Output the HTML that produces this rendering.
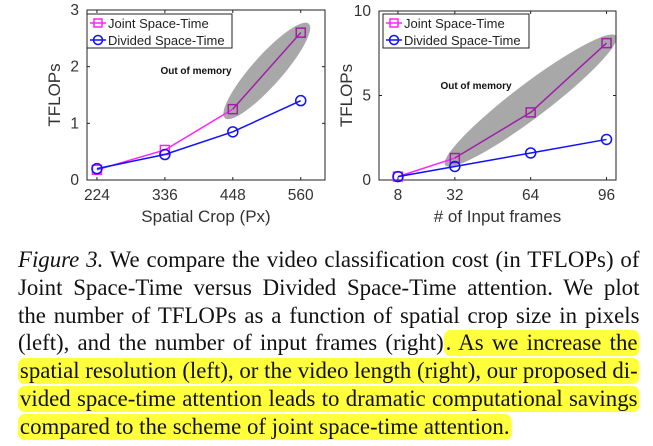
<!DOCTYPE html>
<html><head><meta charset="utf-8">
<style>
body{margin:0;width:653px;height:446px;background:#fff;overflow:hidden;font-family:"Liberation Sans",sans-serif}
#cap{position:absolute;left:18px;top:247px;width:642px;transform:scaleX(0.968);transform-origin:0 0;font-family:"Liberation Serif",serif;font-size:23.6px;line-height:27.8px;color:#111}
.l{text-align:justify;text-align-last:justify;white-space:nowrap}
.l.last{text-align-last:left}
.hl{background:#ffff3c;border-radius:7px;padding:0 2px}
</style></head><body>
<svg id="svg" width="653" height="240" style="position:absolute;left:0;top:0"></svg>
<div id="cap">
<div class="l"><i>Figure 3.</i> We compare the video classification cost (in TFLOPs) of</div>
<div class="l">Joint Space-Time versus Divided Space-Time attention. We plot</div>
<div class="l">the number of TFLOPs as a function of spatial crop size in pixels</div>
<div class="l">(left), and the number of input frames (right)<span class="hl">. As we increase the</span></div>
<div class="l"><span class="hl">spatial resolution (left), or the video length (right), our proposed di-</span></div>
<div class="l"><span class="hl">vided space-time attention leads to dramatic computational savings</span></div>
<div class="l last"><span class="hl">compared to the scheme of joint space-time attention.</span></div>
</div>
<script>
const leftCats=[224,336,448,560];
const leftJoint=[0.18,0.53,1.25,2.6];
const leftDivided=[0.2,0.45,0.85,1.4];
const leftYTicks=[0,1,2,3];
const rightCats=[8,32,64,96];
const rightJoint=[0.2,1.3,4.0,8.1];
const rightDivided=[0.2,0.8,1.6,2.4];
const rightYTicks=[0,5,10];
const NS="http://www.w3.org/2000/svg";
const svg=document.getElementById('svg');
function mk(t,a,p){const e=document.createElementNS(NS,t);for(const k in a)e.setAttribute(k,a[k]);(p||svg).appendChild(e);return e;}
function chart(o){
 const g=mk('g',{});
 
 
 const sx=v=>o.x0+(v-o.xd[0])/(o.xd[1]-o.xd[0])*(o.x1-o.x0);
 const sy=v=>o.y1-(v-o.yd[0])/(o.yd[1]-o.yd[0])*(o.y1-o.y0);
 const ea=o.ell;
 const cx=(sx(ea[0])+sx(ea[2]))/2, cy=(sy(ea[1])+sy(ea[3]))/2;
 const dx=sx(ea[2])-sx(ea[0]), dy=sy(ea[3])-sy(ea[1]);
 const len=Math.hypot(dx,dy)/2+12, ang=Math.atan2(dy,dx)*180/Math.PI;
 const el=mk('ellipse',{cx:cx,cy:cy,rx:len,ry:o.ry,fill:'#a8a8a8',transform:`rotate(${ang} ${cx} ${cy})`},g);
 
 
 const ot=mk('text',{x:o.oomX,y:o.oomY,'font-size':10,'font-weight':'bold',fill:'#111','text-anchor':'middle'},g);ot.textContent='Out of memory';
 
 
 const bx=mk('rect',{x:o.x0,y:o.y0,width:o.x1-o.x0,height:o.y1-o.y0,fill:'none',stroke:'#222','stroke-width':1},g);
 
 
 o.yt.forEach(v=>{const y=sy(v);
  mk('line',{x1:o.x0,x2:o.x0+3,y1:y,y2:y,stroke:'#222'},g);mk('line',{x1:o.x1,x2:o.x1-3,y1:y,y2:y,stroke:'#222'},g);
  const t=mk('text',{x:o.x0-8,y:y+5,'font-size':15.5,fill:'#333','text-anchor':'end'},g);t.textContent=v;
  
  });
 o.cats.forEach(v=>{const x=sx(v);
  mk('line',{x1:x,x2:x,y1:o.y1,y2:o.y1-3,stroke:'#222'},g);mk('line',{x1:x,x2:x,y1:o.y0,y2:o.y0+3,stroke:'#222'},g);
  const t=mk('text',{x:x,y:o.y1+20,'font-size':15.5,fill:'#333','text-anchor':'middle'},g);t.textContent=v;
  
  });
 const xl=mk('text',{x:(o.x0+o.x1)/2,y:o.y1+42,'font-size':17,fill:'#333','text-anchor':'middle'},g);xl.textContent=o.xl;
 
 
 const yx=o.x0-27,ym=(o.y0+o.y1)/2;
 const yl=mk('text',{x:yx,y:ym,'font-size':17,fill:'#333','text-anchor':'middle',transform:`rotate(-90 ${yx} ${ym})`},g);yl.textContent='TFLOPs';
 
 
 for(let i=0;i<o.cats.length-1;i++){
  const s=mk('line',{x1:sx(o.cats[i]),y1:sy(o.joint[i]),x2:sx(o.cats[i+1]),y2:sy(o.joint[i+1]),stroke:i>=o.purpleFrom?'#a020a8':'#ff22ff','stroke-width':1.5},g);
  
  }
 o.cats.forEach((c,i)=>{const x=sx(c),y=sy(o.joint[i]);
  const m=mk('rect',{x:x-4.5,y:y-4.5,width:9,height:9,fill:'none',stroke:i>=o.purpleFrom?'#a020a8':'#ff22ff','stroke-width':1.5},g);
  
  });
 const pd=o.cats.map((c,i)=>(i?'L':'M')+sx(c)+','+sy(o.div[i])).join(' ');
 const dl=mk('path',{d:pd,fill:'none',stroke:'#1010ff','stroke-width':1.5},g);
 
 
 o.cats.forEach((c,i)=>{const m=mk('circle',{cx:sx(c),cy:sy(o.div[i]),r:5,fill:'none',stroke:'#1010ff','stroke-width':1.5},g);
  
  });
 const lg=mk('g',{},g);
 
 
 mk('rect',{x:o.lx,y:14,width:o.lw,height:34,fill:'#fff',stroke:'#222'},lg);
 mk('line',{x1:o.lx+3,x2:o.lx+19,y1:23,y2:23,stroke:'#ff22ff','stroke-width':1.5},lg);
 mk('rect',{x:o.lx+7,y:19,width:8,height:8,fill:'none',stroke:'#ff22ff','stroke-width':1.5},lg);
 mk('line',{x1:o.lx+3,x2:o.lx+19,y1:40,y2:40,stroke:'#1010ff','stroke-width':1.5},lg);
 mk('circle',{cx:o.lx+11,cy:40,r:4.5,fill:'none',stroke:'#1010ff','stroke-width':1.5},lg);
 const t1=mk('text',{x:o.lx+21,y:28,'font-size':13,fill:'#222'},lg);t1.textContent='Joint Space-Time';
 
 
 const t2=mk('text',{x:o.lx+21,y:45,'font-size':13,fill:'#222'},lg);t2.textContent='Divided Space-Time';
 
 
}
chart({name:'left-chart',x0:87,x1:325,y0:10,y1:180,xd:[207.6,600],yd:[0,3],cats:leftCats,joint:leftJoint,div:leftDivided,yt:leftYTicks,
 xl:'Spatial Crop (Px)',lx:87,lw:145,purpleFrom:2,ell:[448,1.25,560,2.6],ry:15,oomX:196,oomY:74});
chart({name:'right-chart',x0:379,x1:616,y0:11,y1:180,xd:[0,100],yd:[0,10],cats:rightCats,joint:rightJoint,div:rightDivided,yt:rightYTicks,
 xl:'# of Input frames',lx:383,lw:146,purpleFrom:1,ell:[32,1.3,96,8.1],ry:17,oomX:476,oomY:89});
</script>
</body></html>
